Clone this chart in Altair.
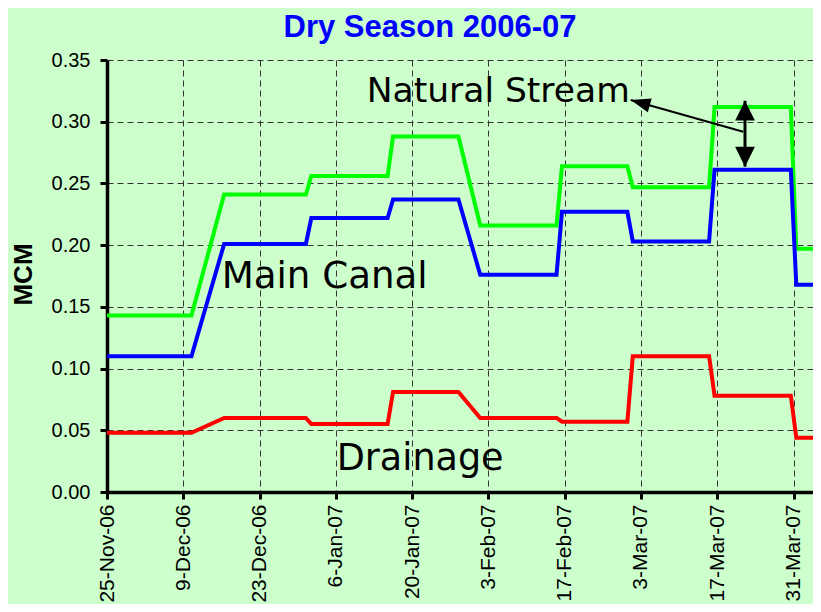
import altair as alt
import pandas as pd

# ---- data ----
dates = [
    "2006-11-25T00:00:00Z", "2006-12-10T12:00:00Z", "2006-12-16T12:00:00Z",
    "2006-12-31T12:00:00Z", "2007-01-01T12:00:00Z", "2007-01-15T12:00:00Z",
    "2007-01-16T12:00:00Z", "2007-01-28T12:00:00Z", "2007-02-01T12:00:00Z",
    "2007-02-15T12:00:00Z", "2007-02-16T12:00:00Z", "2007-02-28T12:00:00Z",
    "2007-03-01T12:00:00Z", "2007-03-15T12:00:00Z", "2007-03-16T12:00:00Z",
    "2007-03-30T12:00:00Z", "2007-03-31T12:00:00Z", "2007-04-05T00:00:00Z",
]
natural_stream = [0.143, 0.143, 0.241, 0.241, 0.256, 0.256, 0.288, 0.288, 0.216,
                  0.216, 0.264, 0.264, 0.247, 0.247, 0.312, 0.312, 0.197, 0.197]
main_canal = [0.110, 0.110, 0.201, 0.201, 0.222, 0.222, 0.237, 0.237, 0.176,
              0.176, 0.227, 0.227, 0.203, 0.203, 0.261, 0.261, 0.168, 0.168]
drainage = [0.048, 0.048, 0.060, 0.060, 0.055, 0.055, 0.081, 0.081, 0.060,
            0.060, 0.057, 0.057, 0.110, 0.110, 0.078, 0.078, 0.044, 0.044]

series_names = ["Main Canal", "Drainage", "Natural Stream"]
series_colors = ["#0000FF", "#FF0000", "#00FF00"]

tick_days = [(2006, 11, 25), (2006, 12, 9), (2006, 12, 23), (2007, 1, 6), (2007, 1, 20),
             (2007, 2, 3), (2007, 2, 17), (2007, 3, 3), (2007, 3, 17), (2007, 3, 31)]
y_ticks = [0.0, 0.05, 0.10, 0.15, 0.20, 0.25, 0.30, 0.35]

label_texts = ["Natural Stream", "Main Canal", "Drainage"]
label_dates = ["2007-01-11T16:00:00Z", "2006-12-16T01:00:00Z", "2007-01-06T04:00:00Z"]
label_values = [0.3162, 0.165, 0.0178]
label_sizes = [34.5, 37.2, 36.5]

# arrow shafts: (start date, start value, end date, end value, width)
shaft_x = ["2007-03-21T18:30:00Z", "2007-03-22T02:10:00Z"]
shaft_y = [0.2919, 0.3170]
shaft_x2 = ["2007-03-01T02:40:00Z", "2007-03-22T02:10:00Z"]
shaft_y2 = [0.3176, 0.2636]
shaft_w = [2, 3]
# arrow heads: tip position, rotation and head kind
head_x = ["2007-03-01T02:40:00Z", "2007-03-22T02:10:00Z", "2007-03-22T02:10:00Z"]
head_y = [0.3176, 0.3170, 0.2636]
head_angle = [285.7, 0, 180]
head_kind = ["narrow", "wide", "wide"]

# ---- tables ----
df = pd.concat([
    pd.DataFrame({"date": dates, "value": natural_stream, "series": "Natural Stream"}),
    pd.DataFrame({"date": dates, "value": main_canal, "series": "Main Canal"}),
    pd.DataFrame({"date": dates, "value": drainage, "series": "Drainage"}),
])
labels_df = pd.DataFrame({"text": label_texts, "date": label_dates,
                          "value": label_values, "size": label_sizes})
shafts_df = pd.DataFrame({"x": shaft_x, "y": shaft_y, "x2": shaft_x2, "y2": shaft_y2, "w": shaft_w})
heads_df = pd.DataFrame({"x": head_x, "y": head_y, "angle": head_angle, "kind": head_kind})

FONT = "Liberation Sans"
x_scale = alt.Scale(
    type="utc",
    domain=[alt.DateTime(year=2006, month=11, date=25, utc=True),
            alt.DateTime(year=2007, month=4, date=3, hours=13, minutes=40, utc=True)],
)
y_scale = alt.Scale(domain=[0, 0.35], nice=False)

x_axis = alt.Axis(
    values=[alt.DateTime(year=y, month=m, date=d, utc=True) for (y, m, d) in tick_days],
    format="%-d-%b-%y", labelAngle=270, labelAlign="right", labelBaseline="middle",
    labelFontSize=21, labelFont=FONT, labelColor="black", labelPadding=5,
    labelFlush=False, labelOverlap=False, labelBound=False,
    tickSize=7, tickWidth=3, tickColor="black",
    domainColor="black", domainWidth=3.5,
    grid=True, gridDash=[6, 4], gridColor="#333333", gridWidth=1,
    title=None,
)
y_axis = alt.Axis(
    values=y_ticks, format=".2f",
    labelFontSize=20, labelFont=FONT, labelColor="black", labelPadding=10,
    tickSize=7, tickWidth=3, tickColor="black",
    domainColor="black", domainWidth=3.5,
    grid=True, gridDash=[6, 4], gridColor="#333333", gridWidth=1,
    title="MCM", titleFont=FONT, titleFontSize=26, titleFontWeight="bold",
    titleColor="black", titleAngle=270, titleX=-76, titleY=214,
    titleAlign="center", titleBaseline="alphabetic",
)

lines = alt.Chart(df).mark_line(strokeWidth=4, clip=True).encode(
    x=alt.X("date:T", scale=x_scale, axis=x_axis),
    y=alt.Y("value:Q", scale=y_scale, axis=y_axis),
    color=alt.Color("series:N", scale=alt.Scale(domain=series_names, range=series_colors), legend=None),
    order=alt.Order("date:T"),
)

texts = alt.Chart(labels_df).mark_text(
    align="left", baseline="alphabetic", font="DejaVu Sans", color="black"
).encode(
    x=alt.X("date:T", scale=x_scale),
    y=alt.Y("value:Q", scale=y_scale),
    text="text:N",
    size=alt.Size("size:Q", scale=None, legend=None),
)

shafts = alt.Chart(shafts_df).mark_rule(color="black").encode(
    x=alt.X("x:T", scale=x_scale),
    y=alt.Y("y:Q", scale=y_scale),
    x2="x2:T",
    y2="y2:Q",
    strokeWidth=alt.StrokeWidth("w:Q", scale=None, legend=None),
)

heads = alt.Chart(heads_df).mark_point(
    filled=True, color="black", opacity=1, size=1568, strokeWidth=0
).encode(
    x=alt.X("x:T", scale=x_scale),
    y=alt.Y("y:Q", scale=y_scale),
    angle=alt.Angle("angle:Q", scale=None),
    shape=alt.Shape("kind:N", scale=alt.Scale(
        domain=["narrow", "wide"],
        range=["M0,0L-0.36,1L0.36,1Z", "M0,0L-0.5,1L0.5,1Z"]), legend=None),
)

chart = alt.layer(lines, shafts, heads, texts).properties(
    width=706,
    height=432,
    title=alt.TitleParams(
        "Dry Season 2006-07", color="#0000FF", fontSize=31, font=FONT, fontWeight="bold",
        anchor="middle", frame="group", dx=-30, dy=32, offset=14, baseline="alphabetic",
    ),
    autosize=alt.AutoSizeParams(type="none"),
    padding={"left": 99, "top": 52, "right": 0, "bottom": 112},
    background="#CCFFCC",
).configure_view(stroke=None)

chart.save("out.html", embed_options={"renderer": "svg", "actions": False})
